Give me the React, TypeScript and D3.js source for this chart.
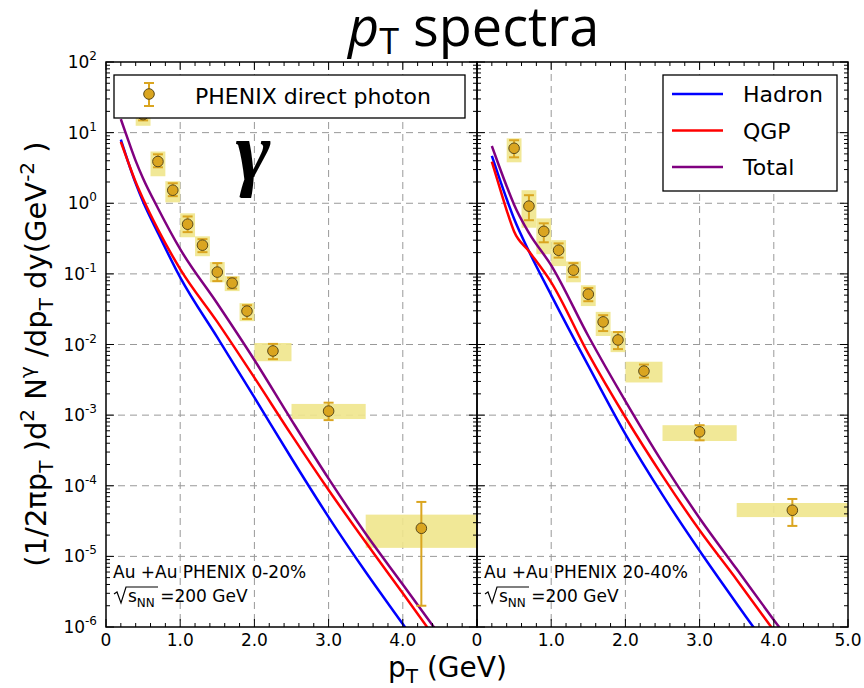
import React from 'react';
import * as d3 from 'd3';

// ---- data -------------------------------------------------------------
// PHENIX direct photon yields, Au+Au 0-20% (left) and 20-40% (right)
const pTLeft = [0.5, 0.7, 0.9, 1.1, 1.3, 1.5, 1.7, 1.9, 2.25, 3.0, 4.25];
const yieldLeft = [18, 3.9, 1.53, 0.505, 0.255, 0.106, 0.074, 0.0297, 0.0081, 0.00114, 2.5e-5];
const statLoLeft = [14.9, 3.23, 1.26, 0.39, 0.203, 0.079, 0.062, 0.023, 0.0062, 0.00085, 2.0e-6];
const statHiLeft = [24, 4.93, 1.92, 0.65, 0.31, 0.142, 0.088, 0.036, 0.0102, 0.0015, 5.9e-5];
const sysLoLeft = [12.5, 2.41, 1.03, 0.33, 0.178, 0.076, 0.057, 0.0214, 0.0058, 0.00088, 1.32e-5];
const sysHiLeft = [27, 5.4, 2.05, 0.72, 0.34, 0.147, 0.093, 0.0385, 0.0105, 0.00144, 3.9e-5];
const binLoLeft = [0.4, 0.6, 0.8, 1.0, 1.2, 1.4, 1.6, 1.8, 2.0, 2.5, 3.5];
const binHiLeft = [0.6, 0.8, 1.0, 1.2, 1.4, 1.6, 1.8, 2.0, 2.5, 3.5, 5.0];

const pTRight = [0.5, 0.7, 0.9, 1.1, 1.3, 1.5, 1.7, 1.9, 2.25, 3.0, 4.25];
const yieldRight = [6.0, 0.91, 0.40, 0.216, 0.113, 0.0516, 0.0209, 0.0116, 0.0042, 0.00058, 4.5e-5];
const statLoRight = [4.47, 0.575, 0.28, 0.17, 0.090, 0.041, 0.0155, 0.0086, 0.0034, 0.00044, 2.7e-5];
const statHiRight = [7.8, 1.30, 0.52, 0.27, 0.142, 0.063, 0.026, 0.015, 0.0052, 0.00072, 6.5e-5];
const sysLoRight = [3.8, 0.45, 0.19, 0.129, 0.076, 0.035, 0.0132, 0.0078, 0.0029, 0.00043, 3.6e-5];
const sysHiRight = [8.3, 1.53, 0.61, 0.30, 0.15, 0.069, 0.029, 0.0155, 0.0057, 0.00072, 5.7e-5];
const binLoRight = [0.4, 0.6, 0.8, 1.0, 1.2, 1.4, 1.6, 1.8, 2.0, 2.5, 3.5];
const binHiRight = [0.6, 0.8, 1.0, 1.2, 1.4, 1.6, 1.8, 2.0, 2.5, 3.5, 5.0];

// model curves, sampled in pT
const curvePt = [0.2, 0.3, 0.4, 0.5, 0.7, 1.0, 1.5, 2.0, 2.5, 3.0, 3.5, 4.0, 4.5];
const hadronLeft = [7.94, 3.80, 1.91, 1.05, 0.380, 0.0891, 0.0126, 1.78e-3, 2.45e-4, 3.6e-5, 6.0e-6, 1.1e-6, 2.0e-7];
const qgpLeft = [7.41, 3.80, 2.00, 1.15, 0.427, 0.117, 0.0209, 3.39e-3, 5.25e-4, 8.71e-5, 1.58e-5, 3.0e-6, 5.6e-7];
const totalLeft = [15.5, 7.76, 3.98, 2.24, 0.851, 0.224, 0.0380, 6.03e-3, 8.51e-4, 1.26e-4, 2.09e-5, 4.0e-6, 7.6e-7];
const hadronRight = [4.68, 2.29, 1.15, 0.603, 0.209, 0.0501, 5.01e-3, 5.37e-4, 7.41e-5, 1.20e-5, 2.14e-6, 3.98e-7, 7.9e-8];
const qgpRight = [3.89, 1.74, 0.794, 0.398, 0.209, 0.0759, 7.41e-3, 9.33e-4, 1.38e-4, 2.34e-5, 4.68e-6, 8.91e-7, 1.78e-7];
const totalRight = [6.46, 3.31, 1.74, 0.955, 0.380, 0.132, 0.0132, 1.58e-3, 2.14e-4, 3.47e-5, 6.61e-6, 1.26e-6, 2.51e-7];

const yDecades = [-6, -5, -4, -3, -2, -1, 0, 1, 2];
const xTickLabelsLeft = ['0', '1.0', '2.0', '3.0', '4.0'];
const xTickLabelsRight = ['0', '1.0', '2.0', '3.0', '4.0', '5.0'];
const modelNames = ['Hadron', 'QGP', 'Total'];
const modelColors = ['#0000ff', '#ff0000', '#800080'];

// ---- layout -----------------------------------------------------------
const W = 864;
const H = 688;
const TOP = 62;
const BOTTOM = 627;
const FONT = "'DejaVu Sans', sans-serif";
const DATA_EDGE = '#daa520';
const BOX_FILL = '#f0e68c';

const y = d3.scaleLog().domain([1e-6, 1e2]).range([BOTTOM, TOP]);

type Panel = {
  id: string;
  x: d3.ScaleLinear<number, number>;
  pT: number[];
  val: number[];
  sLo: number[];
  sHi: number[];
  bLo: number[];
  bHi: number[];
  binLo: number[];
  binHi: number[];
  models: number[][];
  tickLabels: string[];
  centrality: string;
};

const panels: Panel[] = [
  {
    id: 'left',
    x: d3.scaleLinear().domain([0, 5]).range([106, 477]),
    pT: pTLeft, val: yieldLeft, sLo: statLoLeft, sHi: statHiLeft,
    bLo: sysLoLeft, bHi: sysHiLeft, binLo: binLoLeft, binHi: binHiLeft,
    models: [hadronLeft, qgpLeft, totalLeft],
    tickLabels: xTickLabelsLeft,
    centrality: 'Au +Au PHENIX 0-20%',
  },
  {
    id: 'right',
    x: d3.scaleLinear().domain([0, 5]).range([477, 848]),
    pT: pTRight, val: yieldRight, sLo: statLoRight, sHi: statHiRight,
    bLo: sysLoRight, bHi: sysHiRight, binLo: binLoRight, binHi: binHiRight,
    models: [hadronRight, qgpRight, totalRight],
    tickLabels: xTickLabelsRight,
    centrality: 'Au +Au PHENIX 20-40%',
  },
];

function Sqrt({ x, yb }: { x: number; yb: number }) {
  // radical sign over s_NN
  return (
    <g>
      <path
        d={`M${x} ${yb - 8} L${x + 3} ${yb - 10} L${x + 7} ${yb + 1} L${x + 12} ${yb - 15} L${x + 44} ${yb - 15}`}
        fill="none" stroke="#000" strokeWidth={1.2}
      />
      <text x={x + 14} y={yb} fontFamily={FONT} fontSize={17}>
        s<tspan fontSize={12} dy={5}>NN</tspan>
        <tspan dy={-5} fontSize={17}> =200 GeV</tspan>
      </text>
    </g>
  );
}

function PanelView({ p }: { p: Panel }) {
  const x = p.x;
  const [x0, x1] = x.range();
  const line = d3
    .line<number>()
    .x((_, i) => x(curvePt[i]))
    .y((d) => y(d))
    .curve(d3.curveMonotoneX);

  const minorY: number[] = [];
  for (let e = -6; e < 2; e++) for (let m = 2; m <= 9; m++) minorY.push(m * Math.pow(10, e));
  const majorX = d3.range(0, 5.001, 1);
  const minorX = d3.range(0, 5.001, 0.2).filter((v) => Math.abs(v - Math.round(v)) > 1e-6);

  return (
    <g>
      <defs>
        <clipPath id={`clip-${p.id}`}>
          <rect x={x0} y={TOP} width={x1 - x0} height={BOTTOM - TOP} />
        </clipPath>
      </defs>
      {/* grid */}
      <g stroke="#999" strokeWidth={1} strokeDasharray="7,5">
        {yDecades.slice(1, -1).map((e) => (
          <line key={'gy' + e} x1={x0} x2={x1} y1={y(Math.pow(10, e))} y2={y(Math.pow(10, e))} />
        ))}
        {majorX.slice(1, -1).map((v) => (
          <line key={'gx' + v} x1={x(v)} x2={x(v)} y1={TOP} y2={BOTTOM} />
        ))}
      </g>
      <g clipPath={`url(#clip-${p.id})`}>
        {/* systematic boxes */}
        {p.pT.map((_, i) => (
          <rect
            key={'b' + i}
            x={x(p.binLo[i])}
            width={x(p.binHi[i]) - x(p.binLo[i])}
            y={y(p.bHi[i])}
            height={y(p.bLo[i]) - y(p.bHi[i])}
            fill={BOX_FILL}
            opacity={0.9}
          />
        ))}
        {/* model curves */}
        {p.models.map((m, k) => (
          <path key={'m' + k} d={line(m) || ''} fill="none" stroke={modelColors[k]} strokeWidth={2.5} />
        ))}
        {/* statistical error bars and points */}
        {p.pT.map((pt, i) => {
          const cx = x(pt);
          return (
            <g key={'d' + i} stroke={DATA_EDGE} strokeWidth={2}>
              <line x1={cx} x2={cx} y1={y(p.sHi[i])} y2={y(p.sLo[i])} />
              <line x1={cx - 5} x2={cx + 5} y1={y(p.sHi[i])} y2={y(p.sHi[i])} />
              <line x1={cx - 5} x2={cx + 5} y1={y(p.sLo[i])} y2={y(p.sLo[i])} />
              <circle cx={cx} cy={y(p.val[i])} r={5.3} fill={DATA_EDGE} stroke="#5a4a1a" strokeWidth={1} />
            </g>
          );
        })}
      </g>
      {/* ticks */}
      <g stroke="#000" strokeWidth={1}>
        {yDecades.map((e) => {
          const yy = y(Math.pow(10, e));
          return (
            <g key={'ty' + e}>
              <line x1={x0} x2={x0 + 8} y1={yy} y2={yy} />
              <line x1={x1} x2={x1 - 8} y1={yy} y2={yy} />
            </g>
          );
        })}
        {minorY.map((v, i) => {
          const yy = y(v);
          return (
            <g key={'my' + i}>
              <line x1={x0} x2={x0 + 4} y1={yy} y2={yy} />
              <line x1={x1} x2={x1 - 4} y1={yy} y2={yy} />
            </g>
          );
        })}
        {majorX.map((v) => (
          <g key={'tx' + v}>
            <line x1={x(v)} x2={x(v)} y1={BOTTOM} y2={BOTTOM - 8} />
            <line x1={x(v)} x2={x(v)} y1={TOP} y2={TOP + 8} />
          </g>
        ))}
        {minorX.map((v, i) => (
          <g key={'mx' + i}>
            <line x1={x(v)} x2={x(v)} y1={BOTTOM} y2={BOTTOM - 4} />
            <line x1={x(v)} x2={x(v)} y1={TOP} y2={TOP + 4} />
          </g>
        ))}
      </g>
      <rect x={x0} y={TOP} width={x1 - x0} height={BOTTOM - TOP} fill="none" stroke="#000" strokeWidth={1.5} />
      {/* x tick labels */}
      {p.tickLabels.map((t, i) => (
        <text key={'xl' + i} x={x(i)} y={646} textAnchor="middle" fontFamily={FONT} fontSize={17}>
          {t}
        </text>
      ))}
      {/* collision system */}
      <text x={x0 + 7} y={578} fontFamily={FONT} fontSize={17}>{p.centrality}</text>
      <Sqrt x={x0 + 8} yb={602} />
    </g>
  );
}

export default function App() {
  const legendX = 149;
  return (
    <svg width={W} height={H} viewBox={`0 0 ${W} ${H}`} style={{ position: 'absolute', left: 0, top: 0, background: '#fff' }}>
      <rect width={W} height={H} fill="#fff" />
      {/* title */}
      <text x={348} y={46} fontFamily="'Open Sans', sans-serif" fontSize={54}>
        <tspan fontStyle="italic">p</tspan>
        <tspan fontSize={36} dy={8}>T</tspan>
        <tspan dy={-8}> spectra</tspan>
      </text>
      {panels.map((p) => (
        <PanelView key={p.id} p={p} />
      ))}
      {/* y tick labels */}
      {yDecades.map((e) => (
        <text key={'yl' + e} x={97} y={y(Math.pow(10, e)) + 6} textAnchor="end" fontFamily={FONT} fontSize={17}>
          10<tspan fontSize={12} dy={-8}>{e}</tspan>
        </text>
      ))}
      {/* axis titles */}
      <text x={388} y={677} fontFamily={FONT} fontSize={28}>
        p<tspan fontSize={20} dy={6}>T</tspan>
        <tspan dy={-6}> (GeV)</tspan>
      </text>
      <text transform="translate(46,354) rotate(-90)" textAnchor="middle" fontFamily={FONT} fontSize={29}>
        (1/2πp<tspan fontSize={20} dy={7}>T</tspan>
        <tspan dy={-7}> )d</tspan>
        <tspan fontSize={20} dy={-12}>2</tspan>
        <tspan dy={12}> N</tspan>
        <tspan fontSize={20} dy={-12}>γ</tspan>
        <tspan dy={12}> /dp</tspan>
        <tspan fontSize={20} dy={7}>T</tspan>
        <tspan dy={-7}> dy(GeV</tspan>
        <tspan fontSize={20} dy={-12}>-2</tspan>
        <tspan dy={12}> )</tspan>
      </text>
      {/* data legend */}
      <rect x={114} y={75} width={351} height={43} fill="#fff" stroke="#000" strokeWidth={1.3} />
      <g stroke={DATA_EDGE} strokeWidth={2}>
        <line x1={legendX} x2={legendX} y1={83} y2={106} />
        <line x1={legendX - 5} x2={legendX + 5} y1={83} y2={83} />
        <line x1={legendX - 5} x2={legendX + 5} y1={106} y2={106} />
        <circle cx={legendX} cy={94} r={5.3} fill={DATA_EDGE} stroke="#5a4a1a" strokeWidth={1} />
      </g>
      <text x={195} y={104} fontFamily={FONT} fontSize={22}>PHENIX direct photon</text>
      <text x={253} y={180} textAnchor="middle" fontFamily="'Liberation Serif', serif" fontStyle="italic" fontWeight="bold" fontSize={84}>γ</text>
      {/* model legend */}
      <rect x={663} y={75} width={174} height={116} fill="#fff" stroke="#000" strokeWidth={1.3} />
      {modelNames.map((n, k) => (
        <g key={n}>
          <line x1={672} x2={723} y1={94 + k * 36.5} y2={94 + k * 36.5} stroke={modelColors[k]} strokeWidth={2.5} />
          <text x={743} y={102 + k * 36.5} fontFamily={FONT} fontSize={22}>{n}</text>
        </g>
      ))}
    </svg>
  );
}
